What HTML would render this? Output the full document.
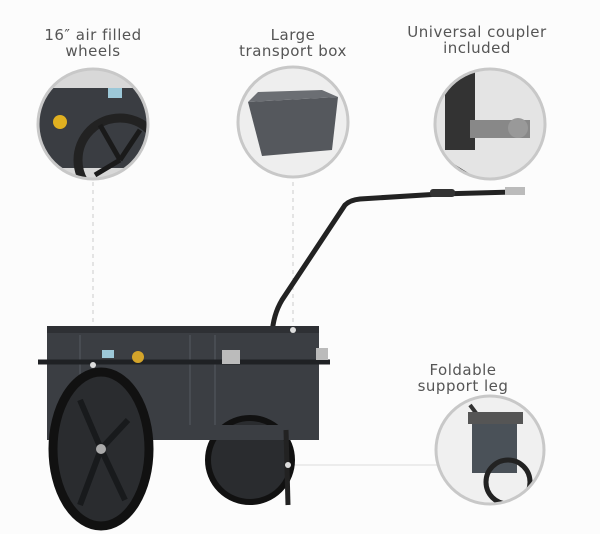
<!DOCTYPE html>
<html><head><style>
body{margin:0;width:600px;height:534px;background:#fcfcfc;overflow:hidden;position:relative;font-family:"DejaVu Sans","Liberation Sans",sans-serif;}
.l{position:absolute;text-align:center;color:#555;font-size:15px;line-height:16px;letter-spacing:0.5px;width:200px;}
</style></head><body>
<div class="l" style="left:-7px;top:27px">16″ air filled<br>wheels</div>
<div class="l" style="left:193px;top:27px">Large<br>transport box</div>
<div class="l" style="left:377px;top:24px">Universal coupler<br>included</div>
<div class="l" style="left:363px;top:362px">Foldable<br>support leg</div>
<svg width="600" height="534" style="position:absolute;left:0;top:0">
<defs>
<clipPath id="c1"><circle cx="93" cy="124" r="55"/></clipPath>
<clipPath id="c2"><circle cx="293" cy="122" r="55"/></clipPath>
<clipPath id="c3"><circle cx="490" cy="124" r="55"/></clipPath>
<clipPath id="c4"><circle cx="490" cy="450" r="54"/></clipPath>
</defs>
<g stroke="#ccc" stroke-width="1" stroke-dasharray="4,4">
<line x1="93" y1="182" x2="93" y2="365"/><line x1="293" y1="182" x2="293" y2="330"/>
</g>
<line x1="290" y1="465" x2="438" y2="465" stroke="#ddd"/>
<!-- circle 1 -->
<circle cx="93" cy="124" r="56" fill="#ddd"/>
<g clip-path="url(#c1)">
<rect x="35" y="70" width="120" height="110" fill="#d8d8d8"/>
<rect x="35" y="88" width="120" height="80" fill="#3a3d42"/>
<circle cx="120" cy="160" r="42" fill="none" stroke="#222" stroke-width="9"/>
<g stroke="#1a1a1a" stroke-width="5"><line x1="120" y1="160" x2="100" y2="125"/><line x1="120" y1="160" x2="140" y2="130"/><line x1="120" y1="160" x2="95" y2="175"/></g>
<circle cx="60" cy="122" r="7" fill="#e0b020"/>
<rect x="108" y="88" width="14" height="10" fill="#9cc8d8"/>
</g>
<circle cx="93" cy="124" r="55" fill="none" stroke="#c8c8c8" stroke-width="3"/>
<!-- circle 2 -->
<circle cx="293" cy="122" r="55" fill="#eee" stroke="#c8c8c8" stroke-width="3"/>
<polygon points="248,102 338,97 332,150 262,156" fill="#55585d"/>
<polygon points="248,102 338,97 322,90 258,92" fill="#6b6e73"/>
<!-- circle 3 -->
<circle cx="490" cy="124" r="56" fill="#e4e4e4"/>
<g clip-path="url(#c3)">
<rect x="445" y="70" width="30" height="80" fill="#333"/>
<rect x="470" y="120" width="60" height="18" fill="#888"/>
<circle cx="518" cy="128" r="10" fill="#999"/>
<line x1="440" y1="160" x2="480" y2="185" stroke="#444" stroke-width="8"/>
</g>
<circle cx="490" cy="124" r="55" fill="none" stroke="#c8c8c8" stroke-width="3"/>
<!-- circle 4 -->
<circle cx="490" cy="450" r="55" fill="#f0f0f0"/>
<g clip-path="url(#c4)">
<line x1="470" y1="405" x2="485" y2="425" stroke="#333" stroke-width="4"/>
<rect x="472" y="418" width="45" height="55" fill="#4a5158"/>
<rect x="468" y="412" width="55" height="12" fill="#555"/>
<circle cx="508" cy="482" r="22" fill="none" stroke="#222" stroke-width="5"/>
</g>
<circle cx="490" cy="450" r="54" fill="none" stroke="#c8c8c8" stroke-width="3"/>
<!-- handle -->
<path d="M272,440 L272,335 Q273,315 282,300 L345,205 Q350,200 360,199 L440,194 L515,192" fill="none" stroke="#222" stroke-width="5"/>
<rect x="430" y="189" width="25" height="8" rx="3" fill="#333"/>
<rect x="505" y="187" width="20" height="8" fill="#bbb"/>
<!-- box -->
<rect x="47" y="330" width="272" height="110" fill="#3b3e43"/>
<rect x="47" y="326" width="272" height="7" fill="#2e3034"/>
<g stroke="#555a60" stroke-width="1"><line x1="190" y1="335" x2="190" y2="440"/><line x1="215" y1="335" x2="215" y2="440"/><line x1="80" y1="335" x2="80" y2="440"/></g>
<line x1="38" y1="362" x2="330" y2="362" stroke="#1f2124" stroke-width="5"/>
<circle cx="138" cy="357" r="6" fill="#d4a42a"/>
<rect x="102" y="350" width="12" height="8" fill="#9cc8d8"/>
<rect x="222" y="350" width="18" height="14" fill="#bbb"/>
<rect x="316" y="348" width="12" height="12" fill="#bbb"/>
<!-- wheels -->
<ellipse cx="250" cy="460" rx="42" ry="42" fill="#2a2c2f" stroke="#111" stroke-width="6"/>
<rect x="47" y="425" width="272" height="15" fill="#3b3e43"/>
<ellipse cx="101" cy="449" rx="48" ry="77" fill="#2a2c2f" stroke="#111" stroke-width="9"/>
<g stroke="#181a1c" stroke-width="6"><line x1="101" y1="449" x2="80" y2="400"/><line x1="101" y1="449" x2="128" y2="420"/><line x1="101" y1="449" x2="125" y2="500"/><line x1="101" y1="449" x2="80" y2="505"/></g>
<circle cx="101" cy="449" r="5" fill="#aaa"/>
<line x1="286" y1="430" x2="288" y2="505" stroke="#222" stroke-width="5"/>
<circle cx="93" cy="365" r="3" fill="#ddd"/><circle cx="293" cy="330" r="3" fill="#ddd"/><circle cx="288" cy="465" r="3" fill="#ddd"/>
</svg>
</body></html>
